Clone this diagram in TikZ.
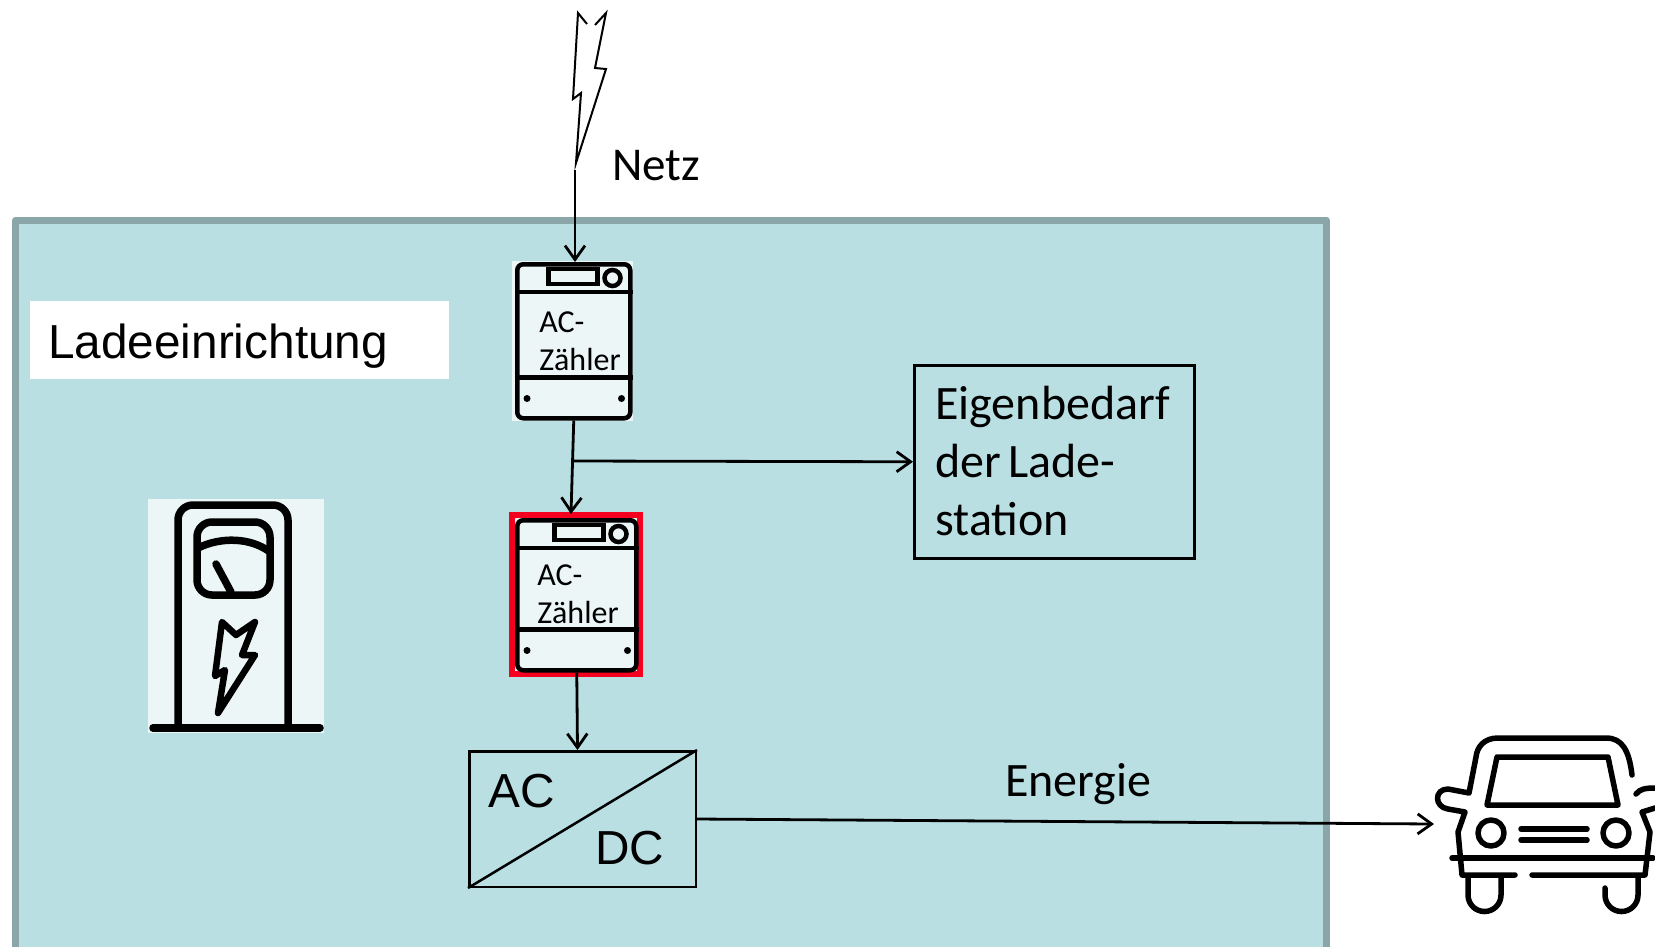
\documentclass[tikz,border=0pt]{standalone}
\usepackage{fontspec}
\setmainfont{Carlito}
\setsansfont{Liberation Sans}
\usetikzlibrary{arrows.meta,calc}
\definecolor{stationfill}{HTML}{B9DFE3}
\definecolor{stationline}{HTML}{8AA6A9}
\definecolor{iconfill}{HTML}{EDF6F7}
\definecolor{rahmenred}{HTML}{F5001E}
\newcommand{\px}{0.75pt}
\tikzset{
  station/.style={draw=stationline, line width=7*\px, line join=round},
  labelbox/.style={
    fill=white,
    anchor=north west,
    minimum width=419*\px,
    minimum height=78*\px,
    inner sep=0pt
  },
  infobox/.style={
    draw=black,
    line width=2.5*\px,
    align=left,
    inner sep=0pt,
    font=\fontsize{36}{43.5}\selectfont
  },
  zaehlerbox/.style={
    draw=black,
    line width=4.5*\px,
    rounded corners=6*\px,
    fill=iconfill,
    anchor=north west,
    inner sep=0pt
  },
  zaehlertext/.style={
    anchor=base west,
    inner sep=0pt,
    font=\fontsize{24}{28}\selectfont
  },
  bigtext/.style={anchor=base west, inner sep=0pt, font=\fontsize{35.3}{42}\selectfont},
  armtext/.style={bigtext, font=\sffamily\fontsize{35.8}{42}\selectfont},
  flow/.style={-{Straight Barb[length=14*\px, width=20*\px, line width=2.8*\px]}, line width=2.8*\px, draw=black},
  zaehlerline/.style={line width=4.5*\px, draw=black},
  chargerline/.style={line width=7.5*\px, draw=black, line join=round, line cap=round},
  carline/.style={line width=5.5*\px, draw=black, line join=round, line cap=round}
}
% #1 name, #2 left, #3 top, #4 width, #5 height, #6 and #7 offsets of the text
\newcommand{\zaehler}[7]{
  \node[zaehlerbox, minimum width=#4*\px, minimum height=#5*\px] (#1) at (#2,#3) {};
  \draw[zaehlerline] ($(#1.north west)+(0,30)$) -- ($(#1.north east)+(0,30)$);
  \draw[zaehlerline] ($(#1.south west)+(0,-43)$) -- ($(#1.south east)+(0,-43)$);
  \draw[zaehlerline] ($(#1.north east)+(-84,7)$) rectangle ($(#1.north east)+(-35,22)$);
  \draw[zaehlerline] ($(#1.north east)+(-20,16)$) circle (8*\px);
  \fill ($(#1.south west)+(12,-22)$) circle (3.5*\px);
  \fill ($(#1.south east)+(-11,-22)$) circle (3.5*\px);
  \node[zaehlertext] (#1ac) at ($(#1.north west)+(#6,#7)$) {AC-};
  \node[zaehlertext] (#1text) at ($(#1.north west)+(#6,#7+38.5)$) {Zähler};
}

\begin{document}
\begin{tikzpicture}[x=\px, y=-\px]
\useasboundingbox (0,0) rectangle (1655,947);

% Station
\path[fill=stationfill] (15.5,947) -- (15.5,220) -- (1326,220) -- (1326,947) -- cycle;
\draw[station] (15.5,947) -- (15.5,220) -- (1326,220) -- (1326,947);
\node[labelbox] (ladebox) at (29.5,301) {};
\node[armtext] (lade) at (48,358) {Ladeeinrichtung};

% Grid
\draw[line width=2*\px] (587,24) -- (578,13) -- (573,99) -- (581,93) -- (576,163)
  -- (606,69) -- (595,68) -- (606,13) -- (595,25);
\coordinate (netzend) at (575,170);
\node[bigtext] (netz) at (612,180) {Netz};

% Meters
\fill[iconfill] (512,261) rectangle (633,421);
\zaehler{zaehlereins}{515}{262}{113}{154}{24}{70}
\node[draw=rahmenred, line width=6*\px, fill=iconfill, anchor=north west, inner sep=0pt,
  minimum width=128*\px, minimum height=159*\px] (rahmen) at (509,512) {};
\zaehler{zaehlerzwei}{515}{518}{119}{150}{22}{67}

% Own consumption
\node[infobox, anchor=north west, minimum width=280*\px, minimum height=193*\px,
  text width=238*\px] (eigen) at (913,364) {\raisebox{1pt}{Eigenbedarf}\\\raisebox{1pt}{der\kern5.5pt Lade-}\\\raisebox{1pt}{station}};

% Converter
\node[draw=black, line width=2.5*\px, anchor=north west, inner sep=0pt,
  minimum width=226.5*\px, minimum height=135.5*\px] (wandler) at (468,750) {};
\draw[line width=2.5*\px] (wandler.south west) -- (wandler.north east);
\node[armtext] (ac) at (488,807) {AC};
\node[armtext] (dc) at (595,864) {DC};
\node[bigtext, font=\fontsize{36}{42}\selectfont] (energie) at (1005,796) {Energie};

% Charger icon
\fill[iconfill] (148,499) rectangle (324,733);
\draw[chargerline, rounded corners=15*\px] (178,728) -- (178,505) -- (288,505) -- (288,728);
\draw[chargerline] (153,728) -- (320,728);
\draw[chargerline, rounded corners=15*\px] (197,522) rectangle (270,595);
\draw[chargerline] (198,548) .. controls (220,537) and (250,537) .. (270,552);
\draw[chargerline] (216,564) -- (231,592);
\draw[chargerline, line width=6.5*\px] (222,622) -- (236,635) -- (255,622) -- (242,655)
  -- (255,655) -- (218,713) -- (225,670) -- (215,676) -- cycle;

% Car icon
\draw[carline] (1632,775) .. controls (1629,750) and (1622,738) .. (1606,738) -- (1498,738)
  .. controls (1484,738) and (1477,747) .. (1476,757) -- (1469,793) -- (1448,789)
  .. controls (1434,789) and (1434,807) .. (1448,809) -- (1465,812) -- (1458,832)
  -- (1462,875) -- (1515,875);
\draw[carline] (1532,875) -- (1645,875) -- (1650,832) -- (1642,812) -- (1655,808);
\draw[carline] (1636,794) .. controls (1640,789) and (1645,788) .. (1655,788);
\draw[carline] (1452,858) -- (1653,858);
\draw[carline] (1497,757) -- (1608,757) -- (1618,805) -- (1487,805) -- cycle;
\draw[carline] (1491,833) circle (13*\px);
\draw[carline] (1616,833) circle (13*\px);
\draw[carline] (1521,829) -- (1587,829);
\draw[carline] (1521,840) -- (1587,840);
\draw[carline] (1468,876) -- (1468,895) arc[start angle=180, end angle=0, radius=16.5] -- (1501,876);
\draw[carline] (1605,888) -- (1605,895) arc[start angle=180, end angle=0, radius=16.5] -- (1638,876);
\coordinate (auto) at (1434,824);

% Connectors
\coordinate (abzweig) at (572.5,461);
\draw[flow] (netzend) -- (netzend |- zaehlereins.north);
\draw[flow] (zaehlereins.south) -- ($(rahmen.north)+(-5,2)$);
\draw[flow] (abzweig) -- (eigen.west);
\draw[flow] (zaehlerzwei.south) -- ($(wandler.north)+(-5,0)$);
\draw[flow] (wandler.east) -- (auto);

\end{tikzpicture}
\end{document}
